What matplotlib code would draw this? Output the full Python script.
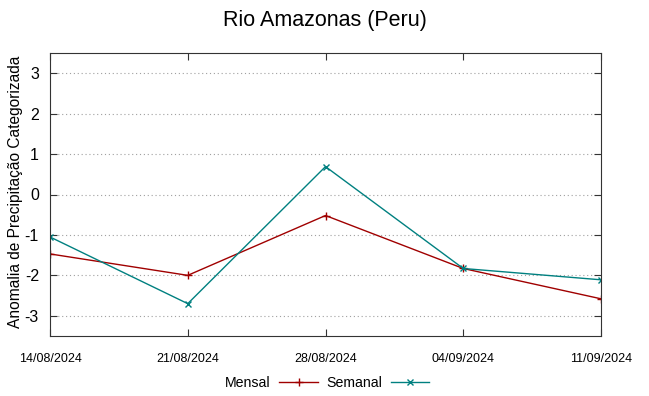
import matplotlib
matplotlib.use('Agg')
from matplotlib import pyplot as plt
import matplotlib.dates as mdates
import pandas as pd

plt.rcParams['font.family'] = ['Liberation Sans', 'DejaVu Sans']
plt.rcParams['axes.unicode_minus'] = False

datas = pd.to_datetime(['2024-08-14', '2024-08-21', '2024-08-28', '2024-09-04', '2024-09-11'])
mensal = [-1.47, -2.00, -0.52, -1.83, -2.58]
semanal = [-1.05, -2.70, 0.69, -1.83, -2.11]
yticks = [-3, -2, -1, 0, 1, 2, 3]

fig = plt.figure(figsize=(6.49, 3.96), dpi=100)
ax = fig.add_axes([50/649, 1-336/396, 551/649, 283/396])

ax.plot(datas, mensal, color='#a00000', lw=1, marker='+', ms=6, mew=1, label='Mensal')
ax.plot(datas, semanal, color='#008080', lw=1, marker='x', ms=5, mew=1, label='Semanal')

ax.set_xlim(datas[0], datas[-1])
ax.set_ylim(-3.5, 3.5)
ax.set_xticks(datas)
ax.xaxis.set_major_formatter(mdates.DateFormatter('%d/%m/%Y'))
ax.set_yticks(yticks)
ax.grid(axis='y', linestyle=(0, (1, 2.5)), color='#a0a0a0', lw=0.8)
ax.tick_params(direction='in', top=True, right=True, length=5, color='#333333')
ax.tick_params(axis='x', labelsize=9, pad=12)
ax.tick_params(axis='y', labelsize=11.5, pad=8)
for s in ax.spines.values():
    s.set_color('#333333')

ax.set_ylabel('Anomalia de Precipitação Categorizada', fontsize=11.2)
ax.yaxis.set_label_coords(-0.049, 0.51)
fig.suptitle('Rio Amazonas (Peru)', fontsize=15.5, y=0.975)

fig.legend(loc='center', bbox_to_anchor=(0.504, 13/396), ncol=2, frameon=False,
           markerfirst=False, handlelength=2.7, columnspacing=0.6, handletextpad=0.6,
           fontsize=10.2)

fig.savefig('out.png', dpi=100)
